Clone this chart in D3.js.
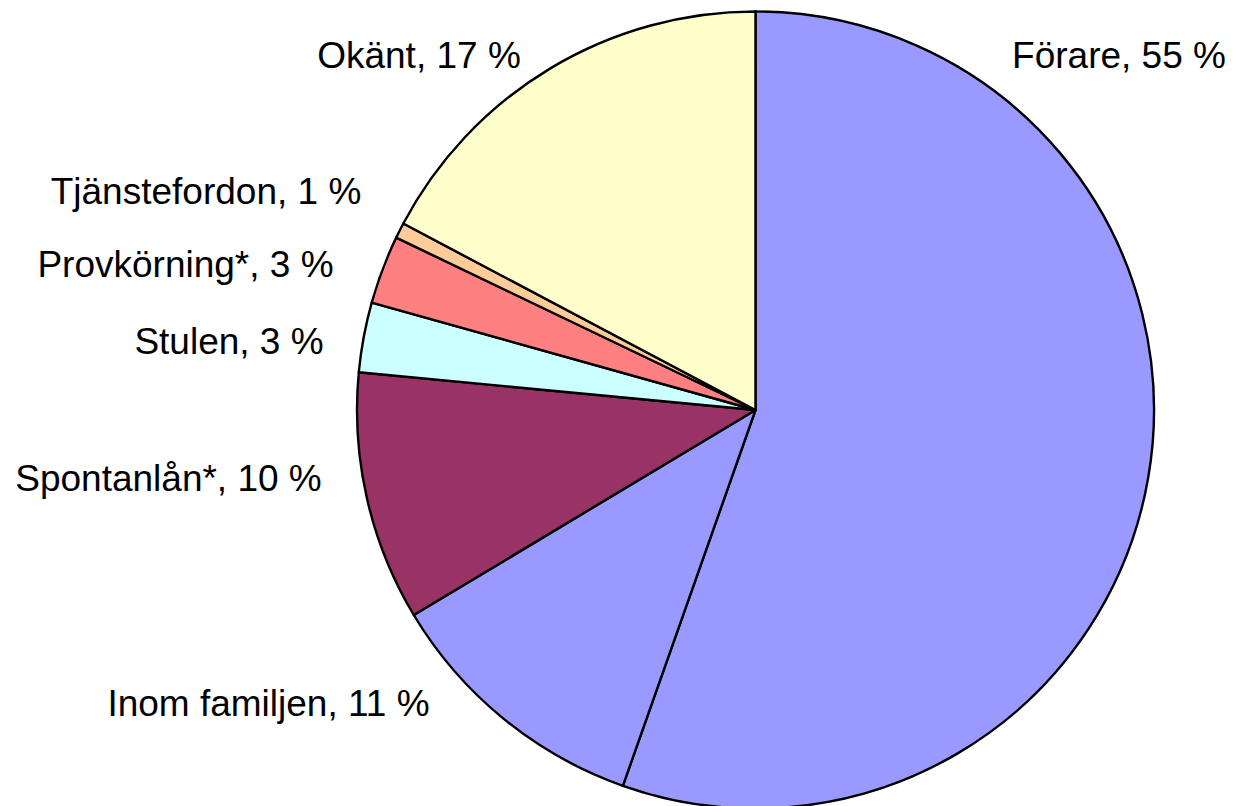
<!DOCTYPE html>
<html>
<head>
<meta charset="utf-8">
<script src="https://cdn.jsdelivr.net/npm/d3@7"></script>
<style>
  html, body { margin: 0; padding: 0; background: #ffffff; }
  svg { display: block; }
  text { font-family: "Liberation Sans", Arial, sans-serif; }
</style>
</head>
<body>
<svg id="chart" width="1233" height="806"></svg>
<script>
// Data: who was driving, share of cases (percent)
const categories = ["Förare", "Inom familjen", "Spontanlån*", "Stulen", "Provkörning*", "Tjänstefordon", "Okänt"];
const shares = [55.4, 11.0, 10.11, 2.83, 2.78, 0.63, 17.25];
const colors = ["#9999FF", "#9999FF", "#993366", "#CCFFFF", "#FF8080", "#FFCC99", "#FFFFCC"];

// Label anchor positions (text centre x, baseline y)
const labelX = [1119, 268.5, 168.5, 229, 185.5, 206, 419];
const labelY = [68, 716, 491, 354, 277, 204, 68];

const W = 1233, H = 806;
const cx = 755.5, cy = 410, radius = 398.5;

const svg = d3.select("#chart");

const rows = categories.map((c, i) => ({ name: c, value: shares[i], color: colors[i], i }));

const pie = d3.pie()
  .sort(null)
  .value(d => d.value)
  .startAngle(0)
  .endAngle(2 * Math.PI);

const arc = d3.arc().innerRadius(0).outerRadius(radius);

const g = svg.append("g").attr("transform", `translate(${cx},${cy})`);

g.selectAll("path.slice")
  .data(pie(rows))
  .join("path")
  .attr("class", "slice")
  .attr("d", arc)
  .attr("fill", d => d.data.color)
  .attr("stroke", "#000000")
  .attr("stroke-width", 2.4)
  .attr("stroke-linejoin", "round");

const fmt = v => `${Math.round(v)} %`;

svg.selectAll("text.label")
  .data(rows)
  .join("text")
  .attr("class", "label")
  .attr("x", d => labelX[d.i])
  .attr("y", d => labelY[d.i])
  .attr("text-anchor", "middle")
  .attr("font-size", 37)
  .attr("fill", "#000000")
  .text(d => `${d.name}, ${fmt(d.value)}`);
</script>
</body>
</html>
